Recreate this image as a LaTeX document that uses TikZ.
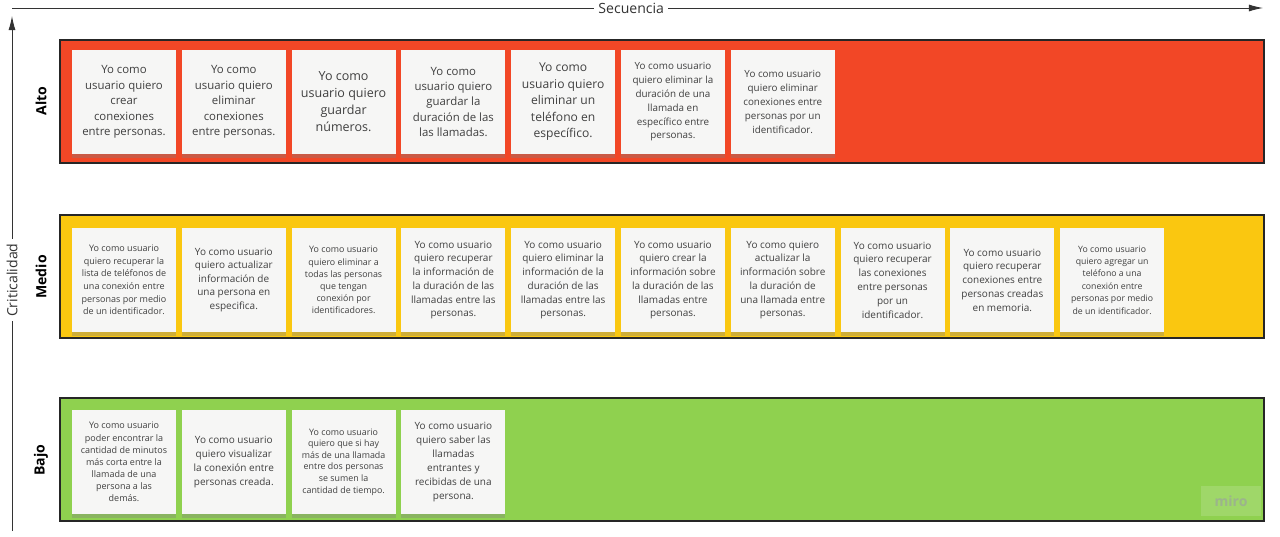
\documentclass[tikz,border=0pt]{standalone}
\usepackage{fontspec}
\setmainfont{Open Sans}
\usetikzlibrary{positioning,shadows,arrows.meta}
\definecolor{altoc}{HTML}{F24726}
\definecolor{medioc}{HTML}{FAC710}
\definecolor{bajoc}{HTML}{8FD14F}
\definecolor{notec}{HTML}{F6F6F5}
\definecolor{mirotxt}{HTML}{9CB48C}

\begin{document}
\begin{tikzpicture}[x=0.025cm,y=0.025cm,
    band/.style={draw=black!85,line width=1pt,minimum width=30.1cm,minimum height=3.075cm,inner sep=0pt},
    sticky/.style 2 args={fill=notec,minimum size=2.6cm,inner sep=0pt,align=center,text=black!75,
      font=\fontsize{#1}{#2}\selectfont,drop shadow={shadow xshift=0pt,shadow yshift=-2.5pt,opacity=.35}},
    lvl/.style={rotate=90,font=\bfseries\fontsize{10}{12}\selectfont},
    axis/.style={draw=black!80,line width=.7pt,-{Latex[length=10pt,width=5pt]}},
    axis label/.style={fill=white,inner sep=3pt,text=black!80,font=\fontsize{10}{12}\selectfont}]
    \useasboundingbox (0,0) rectangle (1280,-537);

    % axes
    \coordinate (xleft) at (12,-8);
    \coordinate (xright) at (1263,-8);
    \coordinate (ybottom) at (12,-531);
    \coordinate (ytop) at (12,-16);
    \draw[axis] (xleft) -- node[axis label,pos=.495] (seq) {Secuencia} (xright);
    \draw[axis] (ybottom) -- node[axis label,rotate=90,pos=.487] (crit) {Criticalidad} (ytop);

    % bands
    \node[band,fill=altoc] (alto) at (662,-101.5) {};
    \node[band,fill=medioc] (medio) at (662,-276.5) {};
    \node[band,fill=bajoc] (bajo) at (662,-459.5) {};
    \node[lvl] (lalto) at (41,-101) {Alto};
    \node[lvl] (lmedio) at (41,-277) {Medio};
    \node[lvl] (lbajo) at (41,-460) {Bajo};

    % alto
    \node[sticky={8.1}{11}] (a1) at (124,-102) {Yo como\\usuario quiero\\crear\\conexiones\\entre personas.};
    \node[sticky={8.1}{11}] (a2) [right=0.13cm of a1] {Yo como\\usuario quiero\\eliminar\\conexiones\\entre personas.};
    \node[sticky={8.9}{12.1}] (a3) [right=0.13cm of a2] {Yo como\\usuario quiero\\guardar\\números.};
    \node[sticky={8.1}{11}] (a4) [right=0.13cm of a3] {Yo como\\usuario quiero\\guardar la\\duración de las\\las llamadas.};
    \node[sticky={8.6}{11.7}] (a5) [right=0.13cm of a4] {Yo como\\usuario quiero\\eliminar un\\teléfono en\\específico.};
    \node[sticky={7}{9.8}] (a6) [right=0.13cm of a5] {Yo como usuario\\quiero eliminar la\\duración de una\\llamada en\\específico entre\\personas.};
    \node[sticky={7}{9.8}] (a7) [right=0.13cm of a6] {Yo como usuario\\quiero eliminar\\conexiones entre\\personas por un\\identificador.};

    % medio
    \node[sticky={6.4}{9}] (m1) at (124,-280) {Yo como usuario\\quiero recuperar la\\lista de teléfonos de\\una conexión entre\\personas por medio\\de un identificador.};
    \node[sticky={7.1}{9.6}] (m2) [right=0.13cm of m1] {Yo como usuario\\quiero actualizar\\información de\\una persona en\\especifica.};
    \node[sticky={6.3}{8.6}] (m3) [right=0.13cm of m2] {Yo como usuario\\quiero eliminar a\\todas las personas\\que tengan\\conexión por\\identificadores.};
    \node[sticky={7.1}{9.8}] (m4) [right=0.13cm of m3] {Yo como usuario\\quiero recuperar\\la información de\\la duración de las\\llamadas entre las\\personas.};
    \node[sticky={7.1}{9.8}] (m5) [right=0.13cm of m4] {Yo como usuario\\quiero eliminar la\\información de la\\duración de las\\llamadas entre las\\personas.};
    \node[sticky={7.1}{9.8}] (m6) [right=0.13cm of m5] {Yo como usuario\\quiero crear la\\información sobre\\la duración de las\\llamadas entre\\personas.};
    \node[sticky={7.1}{9.8}] (m7) [right=0.13cm of m6] {Yo como quiero\\actualizar la\\información sobre\\la duración de\\una llamada entre\\personas.};
    \node[sticky={7.1}{9.8}] (m8) [right=0.13cm of m7] {Yo como usuario\\quiero recuperar\\las conexiones\\entre personas\\por un\\identificador.};
    \node[sticky={7.1}{9.8}] (m9) [right=0.13cm of m8] {Yo como usuario\\quiero recuperar\\conexiones entre\\personas creadas\\en memoria.};
    \node[sticky={6.2}{8.8}] (m10) [right=0.13cm of m9] {Yo como usuario\\quiero agregar un\\teléfono a una\\conexión entre\\personas por medio\\de un identificador.};

    % bajo
    \node[sticky={6.4}{8.6}] (b1) at (124,-462) {Yo como usuario\\poder encontrar la\\cantidad de minutos\\más corta entre la\\llamada de una\\persona a las\\demás.};
    \node[sticky={7.1}{9.8}] (b2) [right=0.13cm of b1] {Yo como usuario\\quiero visualizar\\la conexión entre\\personas creada.};
    \node[sticky={6.3}{8.2}] (b3) [right=0.13cm of b2] {Yo como usuario\\quiero que si hay\\más de una llamada\\entre dos personas\\se sumen la\\cantidad de tiempo.};
    \node[sticky={7.1}{10}] (b4) [right=0.13cm of b3] {Yo como usuario\\quiero saber las\\llamadas\\entrantes y\\recibidas de una\\persona.};

    \node[fill=white,fill opacity=.15,text opacity=1,text=mirotxt,minimum width=1.5cm,minimum height=.75cm,
      font=\bfseries\fontsize{10}{12}\selectfont] (logo) at (1231,-501) {miro};
\end{tikzpicture}
\end{document}
